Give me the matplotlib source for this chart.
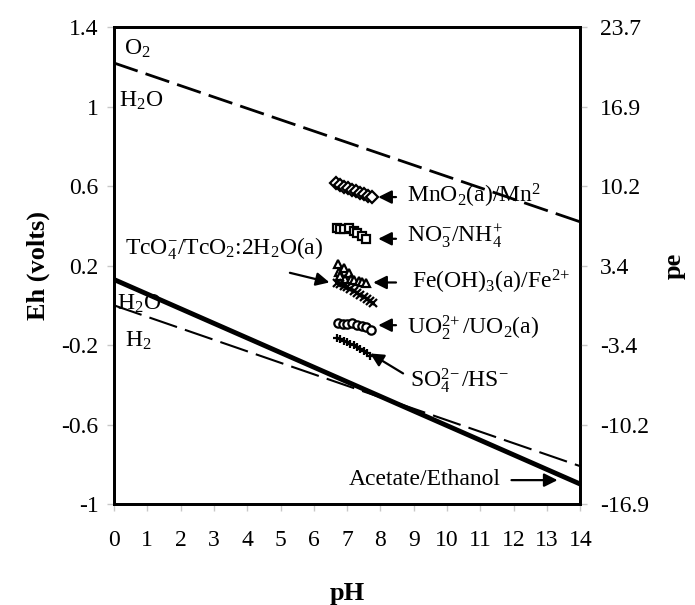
import matplotlib.pyplot as plt

plt.rcParams['font.family'] = ['Liberation Serif', 'DejaVu Serif']
plt.rcParams['mathtext.fontset'] = 'custom'
plt.rcParams['mathtext.rm'] = 'Liberation Serif'
plt.rcParams['mathtext.it'] = 'Liberation Serif:italic'
plt.rcParams['axes.unicode_minus'] = False

# ---- boundary lines (values at pH 0 and pH 14) ----
line_ph = [0, 14]
o2_h2o = [1.22, 0.42]
h2o_h2 = [0.0, -0.81]
acetate_ethanol = [0.13, -0.90]

# ---- groundwater couples ----
mn_ph = [6.68, 6.8, 6.92, 7.04, 7.16, 7.28, 7.4, 7.52, 7.64, 7.75]
mn_eh = [0.615, 0.605, 0.595, 0.59, 0.58, 0.575, 0.565, 0.56, 0.55, 0.545]

no3_ph = [6.7, 6.78, 6.92, 7.05, 7.2, 7.3, 7.44, 7.58]
no3_eh = [0.39, 0.385, 0.385, 0.39, 0.375, 0.365, 0.35, 0.335]

fe_ph = [6.72, 6.76, 6.8, 6.9, 6.95, 7.05, 7.12, 7.22, 7.35, 7.45, 7.56]
fe_eh = [0.21, 0.17, 0.15, 0.19, 0.135, 0.165, 0.13, 0.125, 0.12, 0.115, 0.112]

tc_ph = [6.7, 6.8, 6.9, 7.0, 7.1, 7.2, 7.3, 7.4, 7.5, 7.6, 7.7, 7.78]
tc_eh = [0.11, 0.105, 0.095, 0.09, 0.08, 0.07, 0.06, 0.05, 0.04, 0.03, 0.02, 0.01]

uo2_ph = [6.72, 6.87, 7.01, 7.15, 7.3, 7.44, 7.58, 7.72]
uo2_eh = [-0.09, -0.095, -0.095, -0.09, -0.1, -0.105, -0.11, -0.125]

so4_ph = [6.7, 6.8, 6.9, 7.0, 7.1, 7.2, 7.3, 7.4, 7.5, 7.6, 7.7]
so4_eh = [-0.165, -0.17, -0.18, -0.185, -0.195, -0.2, -0.21, -0.22, -0.23, -0.24, -0.255]

eh_ticks = [-1, -0.6, -0.2, 0.2, 0.6, 1.0, 1.4]
eh_labels = ['-1', '-0.6', '-0.2', '0.2', '0.6', '1', '1.4']
pe_labels = ['-16.9', '-10.2', '-3.4', '3.4', '10.2', '16.9', '23.7']
ph_ticks = list(range(0, 15))

fig = plt.figure(figsize=(6.95, 6.05), dpi=100)
ax = fig.add_axes([0.164, 0.167, 0.671, 0.788])

ax.plot(line_ph, o2_h2o, color='k', lw=2, dashes=(9, 3))
ax.plot(line_ph, h2o_h2, color='k', lw=1.5, dashes=(14, 4))
ax.plot(line_ph, acetate_ethanol, color='k', lw=3.5)

mk = dict(ls='none', color='k', mfc='white', mew=1.6, ms=6)
ax.plot(mn_ph, mn_eh, marker='D', **mk)
ax.plot(no3_ph, no3_eh, marker='s', **mk)
ax.plot(fe_ph, fe_eh, marker='^', **mk)
ax.plot(tc_ph, tc_eh, marker='x', **mk)
ax.plot(uo2_ph, uo2_eh, marker='o', **mk)
ax.plot(so4_ph, so4_eh, marker='+', **mk)

arr = dict(arrowstyle='-|>', color='k', lw=1.6, mutation_scale=20)
fs = 17
ax.annotate('', xy=(7.85, 0.545), xytext=(8.55, 0.545), arrowprops=arr)
ax.text(8.8, 0.55, r'MnO$_2$(a)/Mn$^2$', fontsize=fs, va='center')
ax.annotate('', xy=(7.85, 0.335), xytext=(8.55, 0.335), arrowprops=arr)
ax.text(8.8, 0.345, r'NO$_3^{-}$/NH$_4^{+}$', fontsize=fs, va='center')
ax.annotate('', xy=(7.7, 0.115), xytext=(8.55, 0.115), arrowprops=arr)
ax.text(8.95, 0.12, r'Fe(OH)$_3$(a)/Fe$^{2\!+}$', fontsize=fs, va='center')
ax.annotate('', xy=(7.85, -0.1), xytext=(8.55, -0.1), arrowprops=arr)
ax.text(8.8, -0.11, r'UO$_2^{2\!+}$/UO$_2$(a)', fontsize=fs, va='center')
ax.annotate('', xy=(7.62, -0.235), xytext=(8.75, -0.35), arrowprops=arr)
ax.text(8.9, -0.38, r'SO$_4^{2\!-}$/HS$^{-}$', fontsize=fs, va='center')
ax.annotate('', xy=(6.55, 0.112), xytext=(5.2, 0.167), arrowprops=arr)
ax.text(0.32, 0.285, r'TcO$_4^{-}$/TcO$_2$:2H$_2$O(a)', fontsize=fs, va='center')
ax.annotate('', xy=(13.4, -0.88), xytext=(11.85, -0.88), arrowprops=arr)
ax.text(11.6, -0.875, 'Acetate/Ethanol', fontsize=fs, va='center', ha='right')

ax.text(0.3, 1.29, r'O$_2$', fontsize=fs, va='center')
ax.text(0.15, 1.03, r'H$_2$O', fontsize=fs, va='center')
ax.text(0.1, 0.005, r'H$_2$O', fontsize=fs, va='center')
ax.text(0.32, -0.18, r'H$_2$', fontsize=fs, va='center')

ax.set_xlim(0, 14)
ax.set_ylim(-1, 1.4)
ax.set_xticks(ph_ticks)
ax.set_yticks(eh_ticks)
ax.set_yticklabels(eh_labels)
ax.tick_params(direction='out', length=5, width=1, color='#c8c8c8', labelsize=17, pad=6)
ax.tick_params(axis='x', pad=14)
for s in ax.spines.values():
    s.set_linewidth(2)

ax2 = ax.twinx()
ax2.set_ylim(-1, 1.4)
ax2.set_yticks(eh_ticks)
ax2.set_yticklabels(pe_labels)
ax2.tick_params(direction='out', length=5, width=1, color='#c8c8c8', labelsize=17, pad=9)
for s in ax2.spines.values():
    s.set_linewidth(2)

ax.set_xlabel('pH', fontsize=19, fontweight='bold', labelpad=22)
ax.set_ylabel('Eh (volts)', fontsize=19, fontweight='bold', labelpad=8)
ax2.set_ylabel('pe', fontsize=19, fontweight='bold', labelpad=10)

fig.savefig('out.png', dpi=100)
